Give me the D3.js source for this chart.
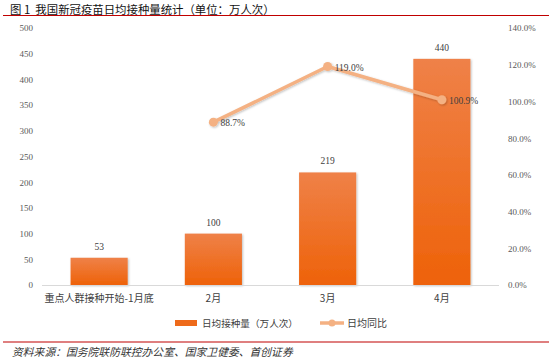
<!DOCTYPE html>
<html><head><meta charset="utf-8">
<script src="https://cdn.jsdelivr.net/npm/d3@7"></script>
<style>body{margin:0;background:#fff}svg{display:block}</style>
</head><body>
<svg id="c" width="554" height="358"></svg>
<script>
const categories = ["重点人群接种开始-1月底", "2月", "3月", "4月"];
const dailyDoses = [53, 100, 219, 440];
const yoyRatio = [null, 0.887, 1.19, 1.009];
const leftTicks = [0, 50, 100, 150, 200, 250, 300, 350, 400, 450, 500];
const rightTicks = [0, 0.2, 0.4, 0.6, 0.8, 1.0, 1.2, 1.4];
const title = "图 1  我国新冠疫苗日均接种量统计（单位：万人次）";
const source = "资料来源：国务院联防联控办公室、国家卫健委、首创证券";
const legendNames = ["日均接种量（万人次）", "日均同比"];

const svg = d3.select("#c");
const serif = "'Liberation Serif','DejaVu Serif',serif";
const cjk = "'Noto Sans CJK SC',sans-serif";
const L = 42, R = 499, T = 28, B = 285;

const defs = svg.append("defs");
const g = defs.append("linearGradient").attr("id","bg").attr("x1",0).attr("y1",0).attr("x2",0).attr("y2",1);
g.append("stop").attr("offset","0%").attr("stop-color","#EF8148");
g.append("stop").attr("offset","100%").attr("stop-color","#EE6209");
const f = defs.append("filter").attr("id","sh").attr("x","-20%").attr("y","-20%").attr("width","140%").attr("height","140%");
f.append("feDropShadow").attr("dx",1).attr("dy",1).attr("stdDeviation",1).attr("flood-color","#000").attr("flood-opacity",0.25);

// title
svg.append("text").attr("x",10).attr("y",13.5).attr("font-family",cjk).attr("font-size",11.4).attr("font-weight","normal")
  .attr("fill","#111").style("white-space","pre").text(title);
svg.append("line").attr("x1",3).attr("x2",549).attr("y1",15.5).attr("y2",15.5).attr("stroke","#C00000").attr("stroke-width",1);

const x = d3.scaleBand().domain(categories).range([L,R]).paddingInner(0.5).paddingOuter(0.25);
const y = d3.scaleLinear().domain([0,500]).range([B,T]);
const y2 = d3.scaleLinear().domain([0,1.4]).range([B,T]);

// left axis
const ax = svg.append("g").attr("transform",`translate(${L-9},0)`)
  .call(d3.axisLeft(y).tickValues(leftTicks).tickSize(0).tickPadding(0));
ax.select(".domain").remove();
ax.selectAll("text").attr("font-family",serif).attr("font-size",9).attr("fill","#595959");

const ar = svg.append("g").attr("transform",`translate(${R+9},0)`)
  .call(d3.axisRight(y2).tickValues(rightTicks).tickFormat(d3.format(".1%")).tickSize(0).tickPadding(0));
ar.select(".domain").remove();
ar.selectAll("text").attr("font-family",serif).attr("font-size",9).attr("fill","#595959");

// bars
svg.selectAll("rect.bar").data(dailyDoses).join("rect").attr("class","bar")
  .attr("x",(d,i)=>x(categories[i])).attr("width",x.bandwidth())
  .attr("y",d=>y(d)).attr("height",d=>B-y(d)).attr("fill","url(#bg)").attr("filter","url(#sh)");
svg.selectAll("text.bl").data(dailyDoses).join("text").attr("class","bl")
  .attr("x",(d,i)=>x(categories[i])+x.bandwidth()/2).attr("y",d=>y(d)-8)
  .attr("text-anchor","middle").attr("font-family",serif).attr("font-size",9.5).attr("fill","#404040").text(d=>d);

// x axis line
svg.append("line").attr("x1",L).attr("x2",R).attr("y1",B+0.5).attr("y2",B+0.5).attr("stroke","#D9D9D9").attr("stroke-width",1);
svg.selectAll("text.xl").data(categories).join("text").attr("class","xl")
  .attr("x",d=>x(d)+x.bandwidth()/2).attr("y",302).attr("text-anchor","middle")
  .attr("font-family",cjk).attr("font-size",10).attr("fill","#404040").text(d=>d);

// line
const pts = yoyRatio.map((v,i)=>({v,c:categories[i]})).filter(d=>d.v!=null);
const lineG = svg.append("g").attr("filter","url(#sh)");
lineG.append("path").datum(pts)
  .attr("d",d3.line().x(d=>x(d.c)+x.bandwidth()/2).y(d=>y2(d.v)))
  .attr("fill","none").attr("stroke","#F4B183").attr("stroke-width",3.5).attr("stroke-linejoin","round");
lineG.selectAll("circle").data(pts).join("circle")
  .attr("cx",d=>x(d.c)+x.bandwidth()/2).attr("cy",d=>y2(d.v)).attr("r",4.5).attr("fill","#F4B183");
svg.selectAll("text.ll").data(pts).join("text").attr("class","ll")
  .attr("x",d=>x(d.c)+x.bandwidth()/2+7).attr("y",d=>y2(d.v)+4)
  .attr("font-family",serif).attr("font-size",9.5).attr("fill","#404040").text(d=>d3.format(".1%")(d.v));

// legend
svg.append("rect").attr("x",175).attr("y",320).attr("width",22).attr("height",6).attr("fill","#EE6A1A");
svg.append("text").attr("x",202).attr("y",327).attr("font-family",cjk).attr("font-size",9.6).attr("fill","#404040").text(legendNames[0]);
svg.append("line").attr("x1",320).attr("x2",344).attr("y1",323).attr("y2",323).attr("stroke","#F4B183").attr("stroke-width",3.5);
svg.append("circle").attr("cx",332).attr("cy",323).attr("r",3.5).attr("fill","#F4B183");
svg.append("text").attr("x",347).attr("y",327).attr("font-family",cjk).attr("font-size",10).attr("fill","#404040").text(legendNames[1]);

// bottom
svg.append("line").attr("x1",3).attr("x2",549).attr("y1",342).attr("y2",342).attr("stroke","#C00000").attr("stroke-width",1.2);
svg.append("text").attr("x",12).attr("y",355.5).attr("font-family",cjk).attr("font-size",10.8).attr("font-style","italic").attr("fill","#333").text(source);
</script>
</body></html>
